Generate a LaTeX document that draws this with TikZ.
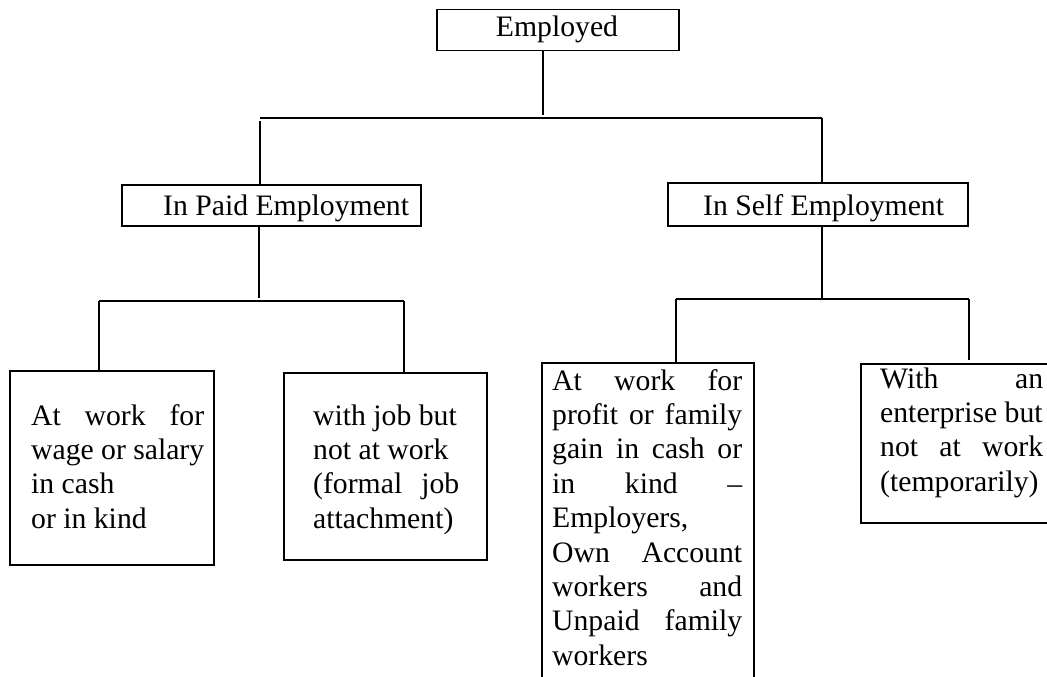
\documentclass[tikz,border=0pt]{standalone}
\usepackage{fontspec}
\setmainfont{Liberation Serif}
\begin{document}
\begin{tikzpicture}[x=1pt,y=-1pt,
  box/.style={draw, line width=1.5pt, inner sep=0pt, anchor=north west},
  lbl/.style={inner sep=0pt, font=\fontsize{29.7}{34.4}\selectfont},
  conn/.style={line width=1.5pt}]
\useasboundingbox (0,0) rectangle (1047,677);
\clip (0,0) rectangle (1047,677);

% boxes
\node[box, minimum width=242pt, minimum height=41pt] (emp) at (436,9) {};
\node[box, minimum width=299pt, minimum height=41pt] (paid) at (121,184) {};
\node[box, minimum width=300pt, minimum height=43pt] (self) at (667,182) {};
\node[box, minimum width=204pt, minimum height=194pt] (b1) at (9,370) {};
\node[box, minimum width=203pt, minimum height=187pt] (b2) at (283,372) {};
\node[box, minimum width=212pt, minimum height=340pt] (b3) at (541,362) {};
\node[box, minimum width=220pt, minimum height=159pt] (b4) at (860,363) {};

% texts
\node[lbl, anchor=base] (temp) at (557,37) {Employed};
\node[lbl, anchor=base west] (tpaid) at (163,215) {In Paid Employment};
\node[lbl, anchor=base west] (tself) at (703,215) {In Self Employment};
\node[lbl, anchor=base west] (t1) at (31,425) {\parbox[t]{173pt}{At\hfill work\hfill for\\
wage or salary\\
in cash\\
or in kind}};
\node[lbl, anchor=base west] (t2) at (313,425) {\parbox[t]{146pt}{with job but\\
not at work\\
(formal\hfill job\\
attachment)}};
\node[lbl, anchor=base west] (t3) at (552,390) {\parbox[t]{190pt}{At\hfill work\hfill for\\
profit\hfill or\hfill family\\
gain\hfill in\hfill cash\hfill or\\
in\hfill kind\hfill –\\
Employers,\\
Own\hfill Account\\
workers\hfill and\\
Unpaid\hfill family\\
workers}};
\node[lbl, anchor=base west] (t4) at (880,388) {\parbox[t]{163pt}{With\hfill an\\
enterprise but\\
not\hfill at\hfill work\\
(temporarily)}};

% junction coordinates
\coordinate (h1L) at (260,118);
\coordinate (h1M) at (543,118);
\coordinate (h1R) at (822,118);
\coordinate (h2L) at (99,301);
\coordinate (h2M) at (259,301);
\coordinate (h2R) at (404,301);
\coordinate (h3L) at (676,299);
\coordinate (h3M) at (822,299);
\coordinate (h3R) at (969,299);

% connectors
\draw[conn] (emp.south -| h1M) -- ([yshift=3pt]h1M);
\draw[conn] (h1L) -- (h1R);
\draw[conn] ([yshift=-3pt]h1L) -- (paid.north -| h1L);
\draw[conn] (h1R) -- (self.north -| h1R);

\draw[conn] (paid.south -| h2M) -- ([yshift=3pt]h2M);
\draw[conn] (h2L) -- (h2R);
\draw[conn] (h2L) -- (b1.north -| h2L);
\draw[conn] (h2R) -- (b2.north -| h2R);

\draw[conn] (self.south -| h3M) -- (h3M);
\draw[conn] (h3L) -- (h3R);
\draw[conn] (h3L) -- (b3.north -| h3L);
\draw[conn] (h3R) -- ([yshift=3pt]b4.north -| h3R);
\end{tikzpicture}
\end{document}
